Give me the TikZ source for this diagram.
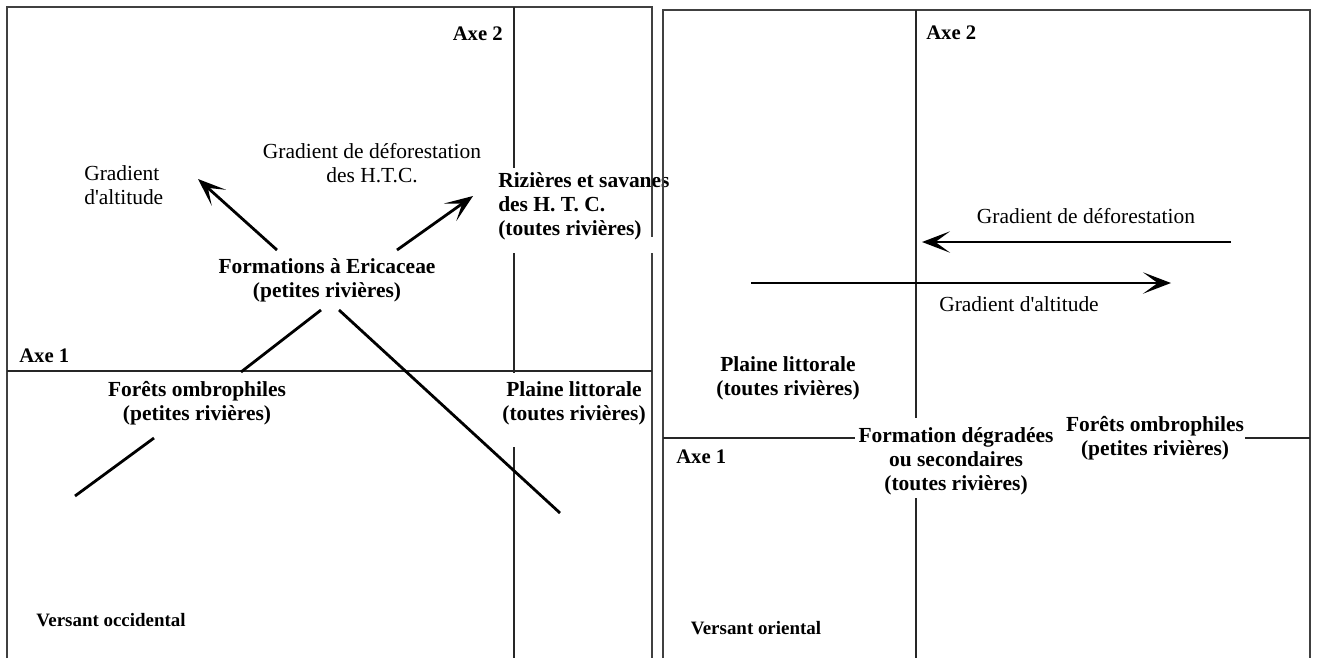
\documentclass[tikz,border=0pt]{standalone}
\usepackage{fontspec}
\setmainfont{Liberation Serif}
\usetikzlibrary{arrows.meta}
\begin{document}
\begin{tikzpicture}[x=0.75pt,y=-0.75pt,
  frame/.style={draw=black!75, line width=1.1pt},
  axis/.style={draw=black!85, line width=0.9pt},
  trend/.style={draw=black, line width=2.1pt},
  gradarrow/.style={trend, -{Stealth[length=21pt,width=16pt,inset=11pt]}},
  lab/.style={font=\fontsize{16.1}{18}\selectfont, inner sep=0pt, align=center},
  blab/.style={lab, font=\fontsize{16.1}{18}\selectfont\bfseries},
  axlab/.style={font=\fontsize{15.5}{18}\selectfont\bfseries, inner sep=0pt},
  side/.style={font=\fontsize{14.2}{17}\selectfont\bfseries, inner sep=0pt}]
\useasboundingbox (0,0) rectangle (1319,658);

% ---------- western slope ----------
\draw[frame] (7,658) -- (7,7) -- (652,7) -- (652,237);
\draw[frame] (652,253) -- (652,658);
\draw[axis] (514,7) -- (514,168);
\draw[axis] (514,253) -- (514,373);
\draw[axis] (514,447) -- (514,658);
\draw[axis] (7,371) -- (652,371);

\node[axlab, anchor=east] (axe2L) at (503,34) {Axe 2};
\node[axlab, anchor=west] (axe1L) at (19,356) {Axe 1};
\node[lab, align=left, anchor=west] (galt) at (84,185) {Gradient\\d\textquotesingle altitude};
\node[lab] (gdef) at (372,163) {Gradient de déforestation\\des H.T.C.};
\node[blab, align=left, anchor=west] (riz) at (498,206) {Rizières et savanes\\des H. T. C.\\(toutes rivières)};
\node[blab] (eric) at (327,280) {Formations à Ericaceae\\(petites rivières)};
\node[blab] (forL) at (197,403) {Forêts ombrophiles\\(petites rivières)};
\node[blab] (plL) at (574,403) {Plaine littorale\\(toutes rivières)};
\node[side] (vocc) at (111,620) {Versant occidental};

\coordinate (altS) at (277,250);
\coordinate (altE) at (198,179);
\coordinate (defS) at (397,250);
\coordinate (defE) at (473,196);
\coordinate (d1a) at (321,310);
\coordinate (d1b) at (241,372);
\coordinate (d1c) at (154,438);
\coordinate (d1d) at (75,496);
\coordinate (d2a) at (339,310);
\coordinate (d2b) at (560,513);

\draw[gradarrow] (altS) -- (altE);
\draw[gradarrow] (defS) -- (defE);
\draw[trend] (d1a) -- (d1b);
\draw[trend] (d1c) -- (d1d);
\draw[trend] (d2a) -- (d2b);

% ---------- eastern slope ----------
\draw[frame] (663,658) -- (663,10) -- (1310,10) -- (1310,658);
\draw[axis] (916,10) -- (916,418);
\draw[axis] (916,498) -- (916,658);
\draw[axis] (663,438) -- (855,438);
\draw[axis] (1245,438) -- (1310,438);

\node[axlab, anchor=west] (axe2R) at (926,33) {Axe 2};
\node[axlab, anchor=west] (axe1R) at (676,457) {Axe 1};
\node[lab] (gdefR) at (1086,216) {Gradient de déforestation};
\node[lab] (galtR) at (1019,304) {Gradient d\textquotesingle altitude};
\node[blab] (plR) at (788,378) {Plaine littorale\\(toutes rivières)};
\node[blab] (formR) at (956,461) {Formation dégradées\\ou secondaires\\(toutes rivières)};
\node[blab] (forR) at (1155,438) {Forêts ombrophiles\\(petites rivières)};
\node[side] (vori) at (756,628) {Versant oriental};

\coordinate (defRS) at (1231,242);
\coordinate (defRE) at (922,242);
\coordinate (altRS) at (751,283);
\coordinate (altRE) at (1171,283);
\draw[gradarrow] (defRS) -- (defRE);
\draw[gradarrow] (altRS) -- (altRE);
\end{tikzpicture}
\end{document}
